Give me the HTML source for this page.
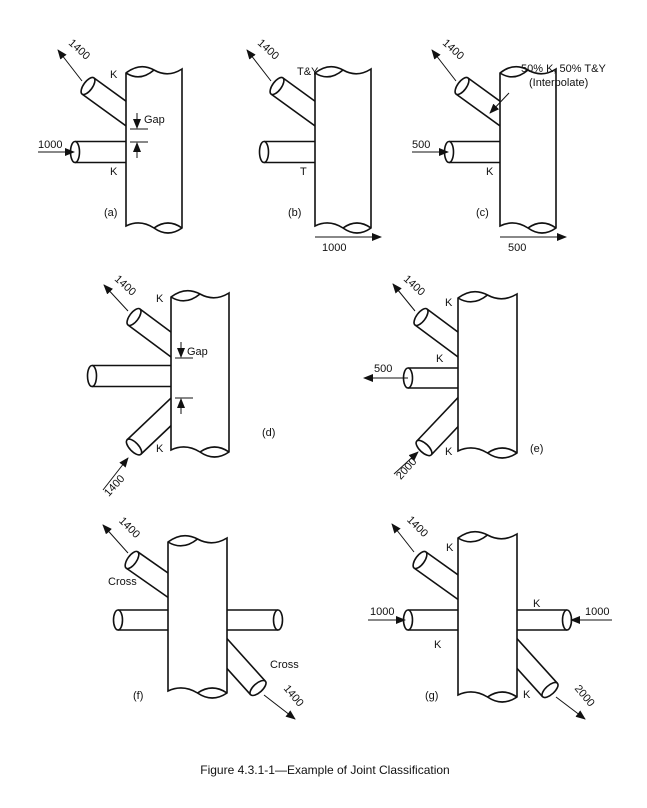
<!DOCTYPE html>
<html><head><meta charset="utf-8"><style>
html,body{margin:0;padding:0;background:#fff}
svg{display:block}
text{font-family:"Liberation Sans",Arial,sans-serif;font-size:11px;fill:#111}
</style></head><body>
<svg id="s" width="647" height="808" viewBox="0 0 647 808" xmlns="http://www.w3.org/2000/svg">
<defs><marker id="ah" markerWidth="10" markerHeight="8" refX="9" refY="4" orient="auto" markerUnits="userSpaceOnUse"><path d="M0,0 L10,4 L0,8 Z" fill="#111"/></marker></defs>
<g id="g" stroke="#111" stroke-width="1.6" fill="none"></g>
<g id="t"></g>
<text x="325" y="774" text-anchor="middle" style="font-size:12px">Figure  4.3.1-1—Example of Joint Classification</text>
</svg>
<script>
var G=document.getElementById('g'),T=document.getElementById('t'),h='',th='';
function brace(x0,y0,x1,y1,w){w=w||20;var a=Math.atan2(y1-y0,x1-x0)*180/Math.PI,L=Math.hypot(x1-x0,y1-y0),r=w/2;
h+='<g transform="translate('+x0+','+y0+') rotate('+a+')"><rect x="-18" y="'+(-r)+'" width="'+(L+18)+'" height="'+w+'" fill="#fff" stroke="none"/><line x1="-18" y1="'+(-r)+'" x2="'+L+'" y2="'+(-r)+'"/><line x1="-18" y1="'+r+'" x2="'+L+'" y2="'+r+'"/><ellipse cx="'+L+'" cy="0" rx="4.5" ry="'+r+'" fill="#fff"/></g>';}
function chord(L,R,Tp,B){var w=R-L;
h+='<path fill="#fff" d="M'+L+','+Tp+' Q'+(L+w*0.25)+','+(Tp-11)+' '+(L+w*0.5)+','+(Tp-3)+' Q'+(L+w*0.75)+','+(Tp+5)+' '+R+','+(Tp-4)+' L'+R+','+B+' Q'+(L+w*0.75)+','+(B+10)+' '+(L+w*0.5)+','+B+' Q'+(L+w*0.25)+','+(B-9)+' '+L+','+(B-2)+' Z"/>';
h+='<path d="M'+L+','+Tp+' Q'+(L+w*0.25)+','+(Tp+9)+' '+(L+w*0.5)+','+(Tp-3)+'"/>';
h+='<path d="M'+R+','+B+' Q'+(L+w*0.75)+','+(B-10)+' '+(L+w*0.5)+','+B+'"/>';}
function arr(x1,y1,x2,y2){h+='<line x1="'+x1+'" y1="'+y1+'" x2="'+x2+'" y2="'+y2+'" stroke-width="1" marker-end="url(#ah)"/>';}
function ln(x1,y1,x2,y2){h+='<line x1="'+x1+'" y1="'+y1+'" x2="'+x2+'" y2="'+y2+'" stroke-width="1"/>';}
function tx(x,y,s,a,anc){th+='<text x="'+x+'" y="'+y+'"'+(anc?' text-anchor="'+anc+'"':'')+(a?' transform="rotate('+a+' '+x+' '+y+')"':'')+'>'+s+'</text>';}
// row 1
[0,189,374].forEach(function(d,i){
 brace(128+d,115,88+d,86);brace(130+d,152,75+d,152,21);chord(126+d,182+d,73,228);
 arr(82+d,81,58+d,50);tx(77+d,52,'1400',42,'middle');
});
tx(110,78,'K');tx(110,175,'K');arr(38,152,74,152);tx(38,148,'1000');
ln(130,129,148,129);ln(130,142,148,142);arr(137,113,137,128);arr(137,158,137,143);tx(144,123,'Gap');
tx(104,216,'(a)');
tx(297,75,'T&amp;Y');tx(300,175,'T');ln(315,237,380,237);arr(360,237,381,237);tx(322,251,'1000');tx(288,216,'(b)');
tx(521,72,'50% K, 50% T&amp;Y');tx(529,86,'(Interpolate)');arr(509,93,490,113);
tx(486,175,'K');arr(412,152,448,152);tx(412,148,'500');ln(500,237,565,237);arr(545,237,566,237);tx(508,251,'500');tx(476,216,'(c)');
// d
brace(173,346,134,317);brace(174,376,92,376,21);brace(173,410,134,447);chord(171,229,297,452);
arr(128,311,104,285);tx(123,288,'1400',42,'middle');arr(103,490,128,458);tx(117,488,'1400',-48,'middle');
tx(156,302,'K');tx(156,452,'K');ln(175,358,193,358);ln(175,398,193,398);arr(181,342,181,357);arr(181,414,181,399);tx(187,355,'Gap');tx(262,436,'(d)');
// e
brace(460,346,421,317);brace(461,378,408,378,20);brace(460,410,424,448);chord(458,517,298,453);
arr(415,311,393,284);tx(412,288,'1400',42,'middle');arr(408,378,364,378);tx(374,372,'500');
arr(394,474,418,452);tx(409,471,'2000',-48,'middle');
tx(445,306,'K');tx(436,362,'K');tx(445,455,'K');tx(530,452,'(e)');
// f
brace(172,588,132,560);
h+='<rect x="118" y="610" width="160" height="20" fill="#fff" stroke="none"/><line x1="118" y1="610" x2="278" y2="610"/><line x1="118" y1="630" x2="278" y2="630"/><ellipse cx="118" cy="620" rx="4.5" ry="10" fill="#fff"/><ellipse cx="278" cy="620" rx="4.5" ry="10" fill="#fff"/>';
brace(222,648,258,688);chord(168,227,542,693);
arr(128,553,103,525);tx(127,530,'1400',45,'middle');arr(264,695,295,719);tx(291,698,'1400',50,'middle');
tx(108,585,'Cross');tx(270,668,'Cross');tx(133,699,'(f)');
// g
brace(462,590,420,560);brace(461,620,408,620,20);brace(514,620,567,620,20);brace(512,648,550,690);chord(458,517,538,697);
arr(414,552,392,524);tx(415,529,'1400',45,'middle');arr(368,620,405,620);tx(370,615,'1000');arr(612,620,571,620);tx(585,615,'1000');
arr(556,697,585,719);tx(582,698,'2000',50,'middle');
tx(446,551,'K');tx(533,607,'K');tx(434,648,'K');tx(523,698,'K');tx(425,699,'(g)');
G.innerHTML=h;T.innerHTML=th;
</script>
</body></html>
